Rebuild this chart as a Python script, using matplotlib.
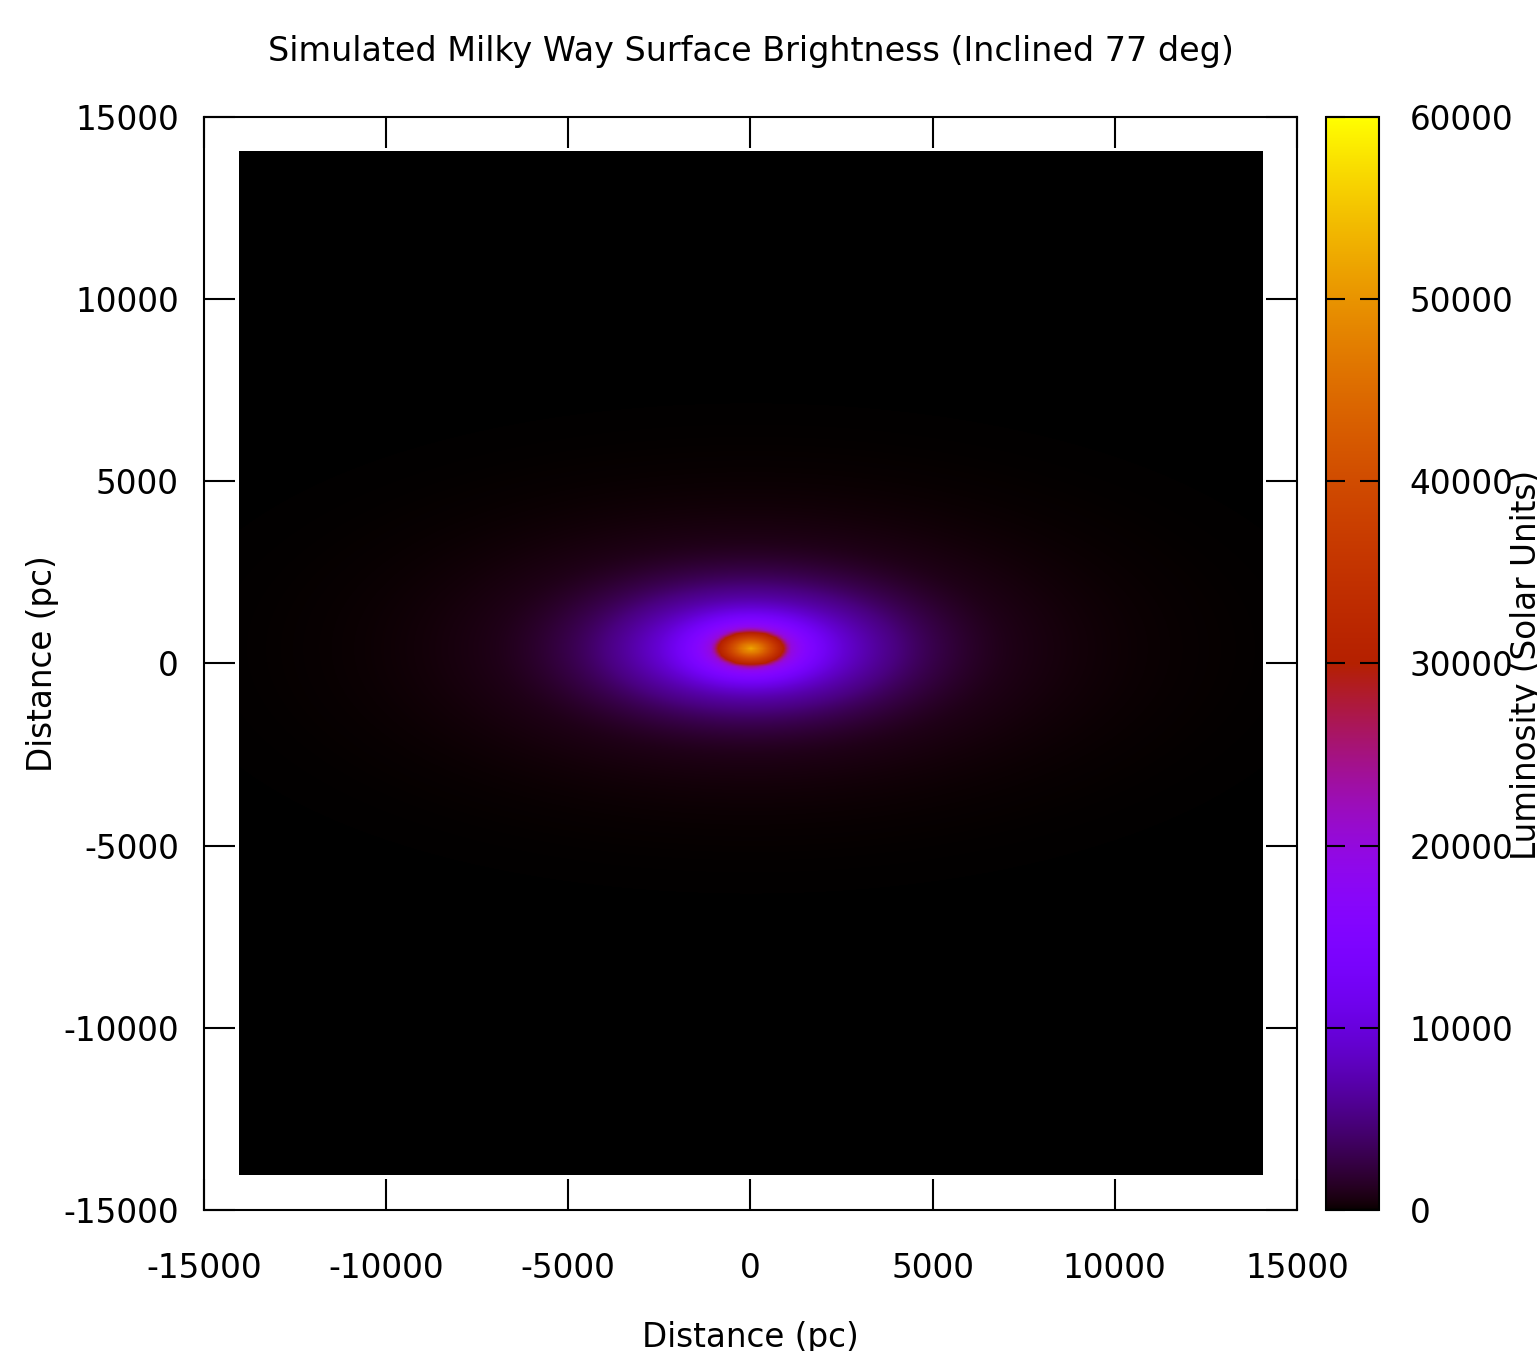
import numpy as np
import matplotlib
matplotlib.use("Agg")
import matplotlib.pyplot as plt

plt.rcParams['font.family'] = ['DejaVu Sans']
plt.rcParams['axes.unicode_minus'] = False

# brightness along the major axis (pc, solar units)
major_r = [0, 300, 600, 900, 1100, 1500, 2500, 4000, 5500, 7000, 8500, 10000, 12000, 14000, 20000]
major_L = [52000, 46000, 38000, 30000, 20000, 16000, 9500, 5000, 2200, 900, 450, 200, 60, 20, 1]

# apparent axis ratio (minor/major) vs radius
ratio_r = [0, 1200, 3000, 20000]
ratio_q = [0.5, 0.5, 0.42, 0.42]

center_y = 400
grid = np.arange(-14000, 14001, 100)

ticks = [-15000, -10000, -5000, 0, 5000, 10000, 15000]
cb_ticks = [0, 10000, 20000, 30000, 40000, 50000, 60000]

X, Y = np.meshgrid(grid, grid)
dy = Y - center_y
r0 = np.hypot(X, dy / 0.45)
q = np.interp(r0, ratio_r, ratio_q)
r = np.hypot(X, dy / q)
L = np.exp(np.interp(r, major_r, np.log(major_L)))

cmap = plt.get_cmap('gnuplot', 8192)

fig = plt.figure(figsize=(15.37, 13.51), dpi=100)
ax = fig.add_axes([0.1327, 0.1044, 0.7111, 0.8090])
cax = fig.add_axes([0.8627, 0.1044, 0.0345, 0.8090])

im = ax.imshow(L, cmap=cmap, vmin=0, vmax=60000, origin='lower',
               extent=[-14050, 14050, -14050, 14050], interpolation='bilinear')
ax.set_xlim(-15000, 15000)
ax.set_ylim(-15000, 15000)
ax.set_xticks(ticks)
ax.set_yticks(ticks)
ax.set_xticklabels([str(t) for t in ticks])
ax.set_yticklabels([str(t) for t in ticks])
ax.tick_params(direction='in', top=True, right=True, length=22, width=1.5,
               labelsize=23.5)
ax.tick_params(axis='x', pad=30)
ax.tick_params(axis='y', pad=18)
for s in ax.spines.values():
    s.set_linewidth(1.5)

ax.set_title('Simulated Milky Way Surface Brightness (Inclined 77 deg)',
             fontsize=24, pad=40)
ax.set_xlabel('Distance (pc)', fontsize=23.5, labelpad=26)
ax.set_ylabel('Distance (pc)', fontsize=23.5, labelpad=3)

cb = fig.colorbar(im, cax=cax)
cb.set_ticks(cb_ticks)
cb.set_ticklabels([str(t) for t in cb_ticks])
cax.tick_params(direction='in', left=True, right=True, length=14, width=1.5,
                labelsize=23.5, pad=22)
cb.outline.set_linewidth(1.5)
fig.text(0.993, 0.508, 'Luminosity (Solar Units)', rotation=90,
         ha='center', va='center', fontsize=23.5)

fig.savefig('out.png', dpi=100)
